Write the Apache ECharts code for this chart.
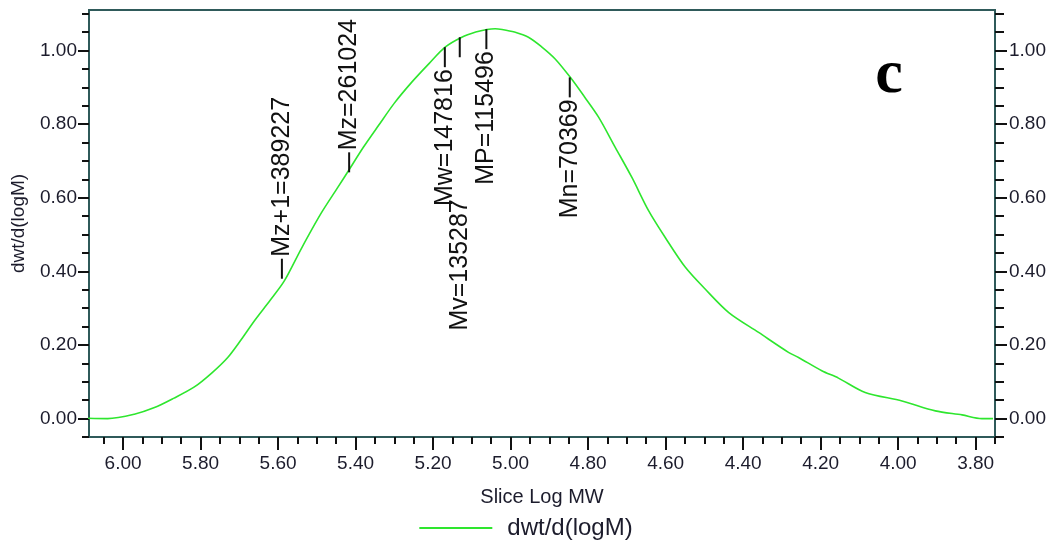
<!DOCTYPE html>
<html>
<head>
<meta charset="utf-8">
<script src="https://cdn.jsdelivr.net/npm/echarts@6/dist/echarts.min.js"></script>
<style>
html,body{margin:0;padding:0;background:#fff;}
#chart{width:1052px;height:542px;}
</style>
</head>
<body>
<div id="chart"></div>
<script>
// Curve data: Slice Log MW vs dwt/d(logM)
const logMW = [6.091, 6.04, 5.971, 5.919, 5.87, 5.816, 5.77, 5.730, 5.695, 5.661, 5.62, 5.584, 5.54, 5.490, 5.446, 5.418, 5.38, 5.341, 5.30, 5.255, 5.21, 5.169, 5.126, 5.09, 5.061, 5.04, 5.022, 4.99, 4.954, 4.92, 4.885, 4.846, 4.81, 4.773, 4.730, 4.687, 4.644, 4.601, 4.549, 4.498, 4.437, 4.360, 4.283, 4.257, 4.197, 4.154, 4.085, 3.990, 3.904, 3.835, 3.784, 3.755];
const dwt    = [0.001, 0.000, 0.012, 0.030, 0.055, 0.086, 0.125, 0.166, 0.215, 0.266, 0.322, 0.374, 0.462, 0.556, 0.628, 0.674, 0.737, 0.796, 0.857, 0.914, 0.965, 1.009, 1.036, 1.050, 1.057, 1.059, 1.057, 1.050, 1.036, 1.010, 0.977, 0.927, 0.875, 0.819, 0.737, 0.655, 0.565, 0.492, 0.411, 0.352, 0.288, 0.234, 0.180, 0.166, 0.130, 0.110, 0.071, 0.048, 0.021, 0.010, 0.000, 0.000];

// Molecular weight averages
const markerNames   = ['Mz+1', 'Mz', 'Mw', 'Mv', 'MP', 'Mn'];
const markerValues  = [389227, 261024, 147816, 135287, 115496, 70369];
const markerHeights = [0.380, 0.669, 1.009, 1.036, 1.058, 0.927];

// Tick labels
const xMajorTicks = [6.00, 5.80, 5.60, 5.40, 5.20, 5.00, 4.80, 4.60, 4.40, 4.20, 4.00, 3.80];
const xMinorTicks = [6.05, 5.95, 5.90, 5.85, 5.75, 5.70, 5.65, 5.55, 5.50, 5.45, 5.35, 5.30, 5.25, 5.15, 5.10, 5.05, 4.95, 4.90, 4.85, 4.75, 4.70, 4.65, 4.55, 4.50, 4.45, 4.35, 4.30, 4.25, 4.15, 4.10, 4.05, 3.95, 3.90, 3.85, 3.75];
const yMajorTicks = [0.00, 0.20, 0.40, 0.60, 0.80, 1.00];
const yMinorTicks = [-0.05, 0.05, 0.10, 0.15, 0.25, 0.30, 0.35, 0.45, 0.50, 0.55, 0.65, 0.70, 0.75, 0.85, 0.90, 0.95, 1.05, 1.10];

const seriesName = 'dwt/d(logM)';
const xName = 'Slice Log MW';
const yName = 'dwt/d(logM)';
const panelLabel = 'c';

// Layout (label direction: -1 up, 1 down; extra gap in px)
const markerLayout = {
  'Mz+1': {dir: -1, gap: 0},
  'Mz':   {dir: -1, gap: 0},
  'Mw':   {dir: 1, gap: 0},
  'Mv':   {dir: 1, gap: 140},
  'MP':   {dir: 1, gap: 0},
  'Mn':   {dir: 1, gap: 0}
};

const FONT = '"Liberation Sans", Arial, sans-serif';
const X_MIN = 3.75, X_MAX = 6.088, Y_MIN = -0.05, Y_MAX = 1.11;
const labelColor = '#1c1c2c';
const tickColor = '#111';
const borderColor = '#2f5a5a';

const curve = logMW.map((v, i) => [v, dwt[i]]);
const markers = markerNames.map((n, i) => [Math.log10(markerValues[i]), markerHeights[i]]);

function xAxisCfg(major) {
  return {
    type: 'value', min: X_MIN, max: X_MAX, inverse: true, position: 'bottom',
    axisLine: {show: false, onZero: false},
    splitLine: {show: false},
    axisTick: {show: true, customValues: major ? xMajorTicks : xMinorTicks, length: major ? 13 : 7, lineStyle: {color: tickColor, width: 2}},
    axisLabel: major ? {show: true, customValues: xMajorTicks, formatter: v => v.toFixed(2), fontFamily: FONT, fontSize: 19, color: labelColor, margin: 17} : {show: false},
    name: major ? xName : '', nameLocation: 'middle', nameGap: 50,
    nameTextStyle: {fontFamily: FONT, fontSize: 20, color: labelColor}
  };
}
function yAxisCfg(major, side) {
  const left = side === 'left';
  return {
    type: 'value', min: Y_MIN, max: Y_MAX, position: side,
    axisLine: {show: false, onZero: false},
    splitLine: {show: false},
    axisTick: {show: true, customValues: major ? yMajorTicks : yMinorTicks, length: major ? (left ? 11 : 12) : (left ? 7 : 9), lineStyle: {color: tickColor, width: 2}},
    axisLabel: major ? {show: true, customValues: yMajorTicks, formatter: v => v.toFixed(2), fontFamily: FONT, fontSize: 19, color: labelColor, margin: left ? 12 : 14} : {show: false},
    name: (major && left) ? yName : '', nameLocation: 'middle', nameGap: 61, nameRotate: 90,
    nameTextStyle: {fontFamily: FONT, fontSize: 19, color: labelColor}
  };
}

const chart = echarts.init(document.getElementById('chart'), null, {renderer: 'canvas'});
chart.setOption({
  animation: false,
  backgroundColor: '#ffffff',
  grid: {left: 89, right: 57, top: 10, bottom: 105, show: true, borderColor: borderColor, borderWidth: 2, backgroundColor: 'transparent'},
  xAxis: [xAxisCfg(true), xAxisCfg(false)],
  yAxis: [yAxisCfg(true, 'left'), yAxisCfg(false, 'left'), yAxisCfg(true, 'right'), yAxisCfg(false, 'right')],
  legend: {
    data: [seriesName], top: 511, left: 'center',
    icon: 'rect', itemWidth: 73, itemHeight: 2,
    textStyle: {fontFamily: FONT, fontSize: 24, color: labelColor, padding: [0, 0, 0, 10]}
  },
  graphic: [{
    type: 'text', x: 889, y: 76,
    style: {text: panelLabel, font: 'bold 62px "Liberation Serif", "Times New Roman", serif', fill: '#000', align: 'center', verticalAlign: 'middle'}
  }],
  series: [
    {
      name: seriesName, type: 'line', data: curve, xAxisIndex: 0, yAxisIndex: 0,
      showSymbol: false, symbol: 'none', smooth: 0.3,
      lineStyle: {color: '#2ee62e', width: 1.6}, itemStyle: {color: '#2ee62e'}
    },
    {
      type: 'custom', xAxisIndex: 0, yAxisIndex: 0, clip: false, z: 5,
      data: markers,
      renderItem: function (params, api) {
        const i = params.dataIndex;
        const name = markerNames[i];
        const L = markerLayout[name];
        const p = api.coord([api.value(0), api.value(1)]);
        const len = 20;
        const y2 = p[1] + L.dir * len;
        const ty = y2 + L.dir * (2 + L.gap);
        return {
          type: 'group',
          children: [
            {type: 'line', shape: {x1: p[0], y1: p[1], x2: p[0], y2: y2}, style: {stroke: '#111', lineWidth: 2}},
            {type: 'text', x: p[0], y: ty, rotation: Math.PI / 2,
             style: {text: name + '=' + markerValues[i], font: '25px ' + FONT, fill: '#111', align: L.dir < 0 ? 'left' : 'right', verticalAlign: 'middle'}}
          ]
        };
      }
    }
  ]
});
</script>
</body>
</html>
